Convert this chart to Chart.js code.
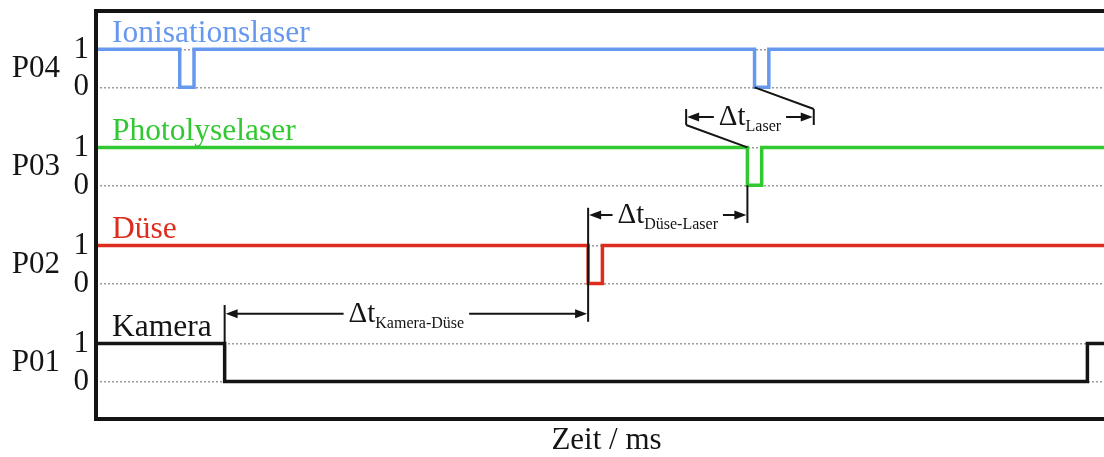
<!DOCTYPE html>
<html>
<head>
<meta charset="utf-8">
<script src="https://cdn.jsdelivr.net/npm/chart.js@4.4.1/dist/chart.umd.min.js"></script>
<style>
  html, body { margin: 0; padding: 0; background: #fff; overflow: hidden; }
  #wrap { width: 1120px; height: 457px; position: relative; }
</style>
</head>
<body>
<div id="wrap"><canvas id="timing"></canvas></div>
<script>
// Channels, bottom to top
const channels = ['P01', 'P02', 'P03', 'P04'];
const channelNames = ['Kamera', 'Düse', 'Photolyselaser', 'Ionisationslaser'];
const levelLabels = ['0', '1'];

// Switching times (ms) and the state each channel takes from that time on
const kameraTimes = [0, 12.6, 97.1, 100];
const kameraStates = [1, 0, 1, 1];
const duseTimes = [0, 48.2, 49.6, 100];
const duseStates = [1, 0, 1, 1];
const photolyseTimes = [0, 63.8, 65.2, 100];
const photolyseStates = [1, 0, 1, 1];
const ionisationTimes = [0, 8.2, 9.6, 64.5, 65.9, 100];
const ionisationStates = [1, 0, 1, 0, 1, 1];

// Delays marked between the channels
const delayFrom = [12.6, 48.2, 57.8];
const delayTo = [48.2, 63.8, 70.3];
const delaySubscripts = ['Kamera-Düse', 'Düse-Laser', 'Laser'];

const channelStep = 2.58;           // vertical distance between channel baselines
const delayLevels = [1.78, 4.38, 6.96];
const colors = ['#141414', '#dc2d1e', '#32c832', '#6699ee'];
const serif = '"Liberation Serif", "Times New Roman", Times, serif';

// extension and leader lines of the delay markings, [x, y] pairs
const markLines = [
  [[12.6, 1.0], [12.6, 2.01]],
  [[48.2, 1.57], [48.2, 4.57]],
  [[63.8, 4.17], [63.8, 5.16]],
  [[57.8, 6.75], [57.8, 7.17]],
  [[70.3, 6.75], [70.3, 7.17]],
  [[57.8, 6.75], [63.8, 6.16]],
  [[64.5, 7.74], [70.3, 7.17]]
];

const series = [
  { times: kameraTimes, states: kameraStates },
  { times: duseTimes, states: duseStates },
  { times: photolyseTimes, states: photolyseStates },
  { times: ionisationTimes, states: ionisationStates }
];

const datasets = series.map((s, i) => ({
  label: channelNames[i],
  data: s.times.map((t, k) => ({ x: t, y: i * channelStep + s.states[k] })),
  borderColor: colors[i],
  borderWidth: 3.5,
  stepped: true,
  pointRadius: 0,
  fill: false,
  borderCapStyle: 'butt',
  borderJoinStyle: 'miter'
}));

const levelValues = channels.flatMap((c, i) => [i * channelStep, i * channelStep + 1]);
const channelMids = channels.map((c, i) => i * channelStep + 0.5);

function arrowHead(ctx, tipX, y, dir) {
  ctx.beginPath();
  ctx.moveTo(tipX, y);
  ctx.lineTo(tipX + dir * 12, y - 4.5);
  ctx.lineTo(tipX + dir * 12, y + 4.5);
  ctx.closePath();
  ctx.fill();
}

// fixed axis widths, no extra room for the end labels
function fixWidth(w) {
  return s => { s.width = w; s.paddingTop = 0; s.paddingBottom = 0; };
}

const decor = {
  id: 'decor',
  afterDatasetsDraw(chart) {
    const { ctx, chartArea: a, scales: { x, y } } = chart;
    ctx.save();

    // channel names above each signal
    ctx.font = '31.5px ' + serif;
    ctx.textAlign = 'left';
    ctx.textBaseline = 'alphabetic';
    channelNames.forEach((n, i) => {
      ctx.fillStyle = colors[i];
      ctx.fillText(n, a.left + 16, y.getPixelForValue(i * channelStep + 1) - 7);
    });

    // extension lines
    ctx.strokeStyle = '#141414';
    ctx.fillStyle = '#141414';
    ctx.lineWidth = 2;
    markLines.forEach(([p, q]) => {
      ctx.beginPath();
      ctx.moveTo(x.getPixelForValue(p[0]), y.getPixelForValue(p[1]));
      ctx.lineTo(x.getPixelForValue(q[0]), y.getPixelForValue(q[1]));
      ctx.stroke();
    });

    // dimension arrows with Δt labels
    const mainFont = '29px ' + serif;
    const subFont = '16px ' + serif;
    delayFrom.forEach((from, i) => {
      const x1 = x.getPixelForValue(from) + 1;
      const x2 = x.getPixelForValue(delayTo[i]) - 1;
      const yy = y.getPixelForValue(delayLevels[i]);
      ctx.font = mainFont;
      const w1 = ctx.measureText('Δt').width;
      ctx.font = subFont;
      const w2 = ctx.measureText(delaySubscripts[i]).width;
      const tx = (x1 + x2) / 2 - (w1 + w2) / 2;
      const gap = 5;
      ctx.beginPath();
      ctx.moveTo(x1 + 10, yy);
      ctx.lineTo(tx - gap, yy);
      ctx.moveTo(tx + w1 + w2 + gap, yy);
      ctx.lineTo(x2 - 10, yy);
      ctx.stroke();
      arrowHead(ctx, x1, yy, 1);
      arrowHead(ctx, x2, yy, -1);
      ctx.textAlign = 'left';
      ctx.textBaseline = 'alphabetic';
      ctx.font = mainFont;
      ctx.fillText('Δt', tx, yy + 8);
      ctx.font = subFont;
      ctx.fillText(delaySubscripts[i], tx + w1, yy + 14);
    });

    // plot frame
    ctx.lineWidth = 4;
    ctx.strokeRect(a.left, a.top, a.right - a.left, a.bottom - a.top);
    ctx.restore();
  }
};

new Chart(document.getElementById('timing'), {
  type: 'line',
  data: { datasets },
  options: {
    responsive: true,
    maintainAspectRatio: false,
    animation: false,
    devicePixelRatio: 1,
    layout: { padding: { left: 0, top: 11, right: 3, bottom: 0 } },
    plugins: { legend: { display: false }, tooltip: { enabled: false } },
    scales: {
      x: {
        type: 'linear', min: 0, max: 100, position: 'bottom',
        ticks: { display: false },
        grid: { display: false, drawTicks: false },
        border: { display: false },
        title: {
          display: true, text: 'Zeit / ms', color: '#141414',
          font: { family: serif, size: 31 }, padding: { top: 0, bottom: -2 }
        },
        afterFit(s) { s.height = 38; s.paddingLeft = 0; s.paddingRight = 0; }
      },
      y: {
        type: 'linear', min: -0.99, max: 9.75, position: 'left', weight: 0,
        afterBuildTicks(s) { s.ticks = levelValues.map(v => ({ value: v })); },
        ticks: {
          autoSkip: false, padding: 7, color: '#141414',
          font: { family: serif, size: 31 },
          callback: (v, i) => levelLabels[i % 2]
        },
        grid: { color: '#9a9a9a', lineWidth: 1.5, drawTicks: false },
        border: { display: false, dash: [2, 2] },
        afterFit: fixWidth(26)
      },
      yp: {
        type: 'linear', min: -0.99, max: 9.75, position: 'left', weight: 1,
        afterBuildTicks(s) { s.ticks = channelMids.map(v => ({ value: v })); },
        ticks: {
          autoSkip: false, padding: 10, color: '#141414',
          font: { family: serif, size: 31 },
          callback: (v, i) => channels[i]
        },
        grid: { display: false, drawTicks: false },
        border: { display: false },
        afterFit: fixWidth(70)
      }
    }
  },
  plugins: [decor]
});
</script>
</body>
</html>
